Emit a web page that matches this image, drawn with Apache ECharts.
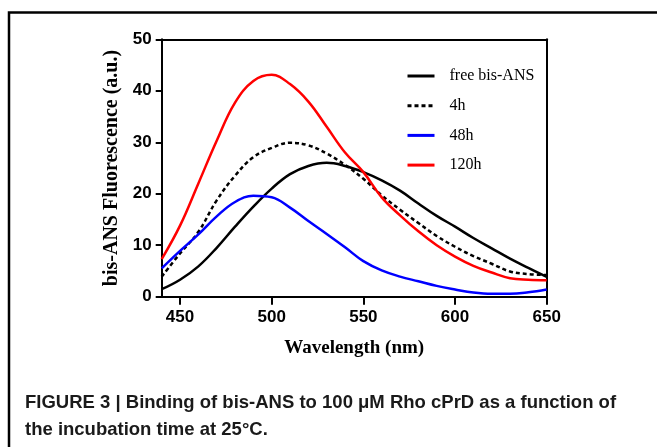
<!DOCTYPE html>
<html>
<head>
<meta charset="utf-8">
<script src="https://cdn.jsdelivr.net/npm/echarts@6/dist/echarts.min.js"></script>
<style>
html,body{margin:0;padding:0;background:#fff;}
#chart{width:657px;height:447px;}
</style>
</head>
<body>
<div id="chart"></div>
<script>
// Wavelength (nm)
var wavelengths = [440,450,460,470,480,490,500,510,520,530,540,550,560,570,580,590,600,610,620,630,640,650];
// Fluorescence (a.u.)
var freeBisANS = [1.45,3.3,5.9,9.5,13.6,17.5,21.0,23.8,25.4,26.0,25.4,24.2,22.6,20.6,18.1,15.7,13.6,11.4,9.4,7.4,5.6,3.85];
var h4        = [3.9,8.4,12.6,18.7,23.5,27.1,28.9,29.9,29.4,27.8,25.6,22.9,19.7,16.9,14.3,11.8,9.7,7.9,6.4,4.9,4.4,4.2];
var h48       = [5.5,8.9,12.1,15.6,18.4,19.6,19.3,17.3,14.7,12.2,9.6,6.9,5.1,3.9,3.0,2.1,1.4,0.8,0.55,0.55,0.85,1.4];
var h120      = [7.3,13.8,22.0,30.3,37.7,41.9,43.1,41.3,37.9,33.0,28.0,24.2,19.3,15.8,12.7,10.0,7.8,6.0,4.7,3.6,3.3,3.2];
var seriesNames = ['free bis-ANS','4h','48h','120h'];
var xTicks = [450,500,550,600,650];
var yTicks = [0,10,20,30,40,50];
var captionLines = ['FIGURE 3 | Binding of bis-ANS to 100 \u03bcM Rho cPrD as a function of','the incubation time at 25\u00b0C.'];

function pairs(arr){ return wavelengths.map(function(w,i){ return [w, arr[i]]; }); }

var chart = echarts.init(document.getElementById('chart'), null, {renderer:'canvas'});
var axisLineStyle = {color:'#000', width:2};
var option = {
  backgroundColor:'#fff',
  animation:false,
  grid:{left:161.7, right:110.3, top:39.3, bottom:150.3, show:false},
  legend:{
    orient:'vertical', left:401, top:63, itemWidth:27, itemHeight:14, itemGap:13.7,
    data:seriesNames,
    itemStyle:{opacity:0},
    lineStyle:{width:3},
    textStyle:{fontFamily:'Liberation Serif', fontSize:16, color:'#000', lineHeight:16, padding:[0,0,0,10]}
  },
  xAxis:[{
    type:'value', min:440, max:650,
    name:'Wavelength (nm)', nameLocation:'middle', nameGap:42,
    nameTextStyle:{fontFamily:'Liberation Serif', fontWeight:'bold', fontSize:19, color:'#000', verticalAlign:'top'},
    axisLine:{show:true, onZero:false, lineStyle:axisLineStyle},
    axisTick:{show:true, length:8, lineStyle:axisLineStyle, customValues:xTicks},
    axisLabel:{customValues:xTicks, margin:12, fontFamily:'Liberation Sans', fontWeight:'bold', fontSize:17, color:'#000'},
    splitLine:{show:false}
  },{
    type:'value', min:440, max:650, position:'top',
    axisLine:{show:true, onZero:false, lineStyle:axisLineStyle},
    axisTick:{show:false}, axisLabel:{show:false}, splitLine:{show:false}
  }],
  yAxis:[{
    type:'value', min:0, max:50, interval:10,
    name:'bis-ANS Fluorescence (a.u.)', nameLocation:'middle', nameGap:37, nameRotate:90,
    nameTextStyle:{fontFamily:'Liberation Serif', fontWeight:'bold', fontSize:20, color:'#000'},
    axisLine:{show:true, onZero:false, lineStyle:axisLineStyle},
    axisTick:{show:true, length:6, lineStyle:axisLineStyle},
    axisLabel:{margin:10, fontFamily:'Liberation Sans', fontWeight:'bold', fontSize:17, color:'#000',
      customValues:yTicks},
    splitLine:{show:false}
  },{
    type:'value', min:0, max:50, position:'right',
    axisLine:{show:true, onZero:false, lineStyle:axisLineStyle},
    axisTick:{show:false}, axisLabel:{show:false}, splitLine:{show:false}
  }],
  series:[
    {name:seriesNames[0], type:'line', smooth:0.4, symbol:'none', data:pairs(freeBisANS), lineStyle:{color:'#000', width:2.5}, itemStyle:{color:'#000'}},
    {name:seriesNames[1], type:'line', smooth:0.4, symbol:'none', data:pairs(h4), lineStyle:{color:'#000', width:2.5, type:[4,3]}, itemStyle:{color:'#000'}},
    {name:seriesNames[2], type:'line', smooth:0.4, symbol:'none', data:pairs(h48), lineStyle:{color:'#0000ff', width:2.5}, itemStyle:{color:'#0000ff'}},
    {name:seriesNames[3], type:'line', smooth:0.4, symbol:'none', data:pairs(h120), lineStyle:{color:'#ff0000', width:2.5}, itemStyle:{color:'#ff0000'}}
  ],
  graphic:[
    {type:'polyline', silent:true, shape:{points:[[9,447],[9,12.5],[657,12.5]]}, style:{stroke:'#000', lineWidth:2.5, fill:null}},
    {type:'text', left:25, top:393, style:{text:captionLines[0], font:'bold 18.5px "Liberation Sans"', fill:'#1a1a1a'}},
    {type:'text', left:25, top:420, style:{text:captionLines[1], font:'bold 18.5px "Liberation Sans"', fill:'#1a1a1a'}}
  ]
};
chart.setOption(option);
</script>
</body>
</html>
